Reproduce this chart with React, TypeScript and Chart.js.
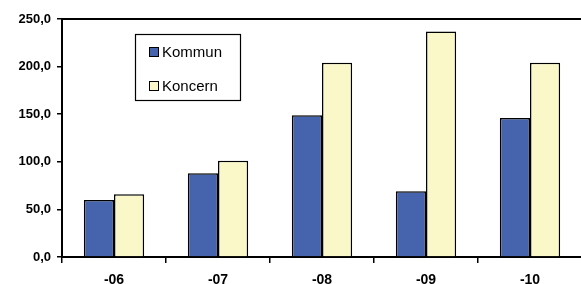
import React, { useEffect, useRef } from "react";
import { Chart, registerables } from "chart.js";

Chart.register(...registerables);

const categories = ["-06", "-07", "-08", "-09", "-10"];
const kommun = [60, 88, 149, 69, 146];
const koncern = [66, 101, 204, 237, 204];
const seriesNames = ["Kommun", "Koncern"];
const yTicks = { min: 0, max: 250, step: 50 };

const FONT = "'Liberation Sans', Arial, sans-serif";

const frameAndLegend = {
  id: "frameAndLegend",
  afterDraw(chart: any) {
    const { ctx, chartArea } = chart;
    ctx.save();
    ctx.strokeStyle = "#000";
    ctx.lineWidth = 2;
    ctx.beginPath();
    ctx.moveTo(chartArea.left - 1, chartArea.top);
    ctx.lineTo(chartArea.right + 1, chartArea.top);
    ctx.stroke();

    // legend box
    const bx = 135.5, by = 34.5, bw = 105, bh = 66;
    ctx.fillStyle = "#fff";
    ctx.fillRect(bx, by, bw, bh);
    ctx.lineWidth = 1.2;
    ctx.strokeRect(bx, by, bw, bh);
    const rows = [52, 86];
    chart.data.datasets.forEach((ds: any, i: number) => {
      const cy = rows[i];
      ctx.fillStyle = ds.backgroundColor;
      ctx.fillRect(149, cy - 4.5, 9, 9);
      ctx.lineWidth = 1;
      ctx.strokeStyle = "#000";
      ctx.strokeRect(149.5, cy - 4.5, 9, 9);
      ctx.fillStyle = "#000";
      ctx.font = `15px ${FONT}`;
      ctx.textBaseline = "middle";
      ctx.textAlign = "left";
      ctx.fillText(ds.label, 162, cy + 1);
    });
    ctx.restore();
  },
};

export default function App() {
  const ref = useRef<HTMLCanvasElement | null>(null);
  useEffect(() => {
    if (!ref.current) return;
    const chart = new Chart(ref.current, {
      type: "bar",
      data: {
        labels: categories,
        datasets: [
          {
            label: seriesNames[0],
            data: kommun,
            backgroundColor: "#4664AD",
            borderColor: "#000",
            borderWidth: 1.5,
            categoryPercentage: 0.58,
            barPercentage: 1,
          },
          {
            label: seriesNames[1],
            data: koncern,
            backgroundColor: "#FAF8C8",
            borderColor: "#000",
            borderWidth: 1.5,
            categoryPercentage: 0.58,
            barPercentage: 1,
          },
        ],
      },
      options: {
        animation: false,
        responsive: false,
        layout: { padding: { top: 19, right: 8, left: 0, bottom: 0 } },
        plugins: { legend: { display: false }, tooltip: { enabled: false } },
        scales: {
          x: {
            offset: true,
            grid: {
              display: true,
              offset: true,
              drawOnChartArea: false,
              drawTicks: true,
              tickLength: 6,
              color: "#000",
              lineWidth: 1.5,
            },
            border: { display: true, color: "#000", width: 2 },
            ticks: {
              color: "#000",
              font: { family: FONT, size: 14, weight: "bold" },
              padding: 9,
              maxRotation: 0,
            },
            afterFit(scale: any) {
              scale.height = 27;
            },
          },
          y: {
            min: yTicks.min,
            max: yTicks.max,
            grid: {
              display: true,
              drawOnChartArea: false,
              drawTicks: true,
              tickLength: 5,
              color: "#000",
              lineWidth: 1.5,
            },
            border: { display: true, color: "#000", width: 2 },
            ticks: {
              stepSize: yTicks.step,
              color: "#000",
              font: { family: FONT, size: 13, weight: "bold" },
              padding: 6,
              callback: (v: any) => Number(v).toFixed(1).replace(".", ","),
            },
            afterFit(scale: any) {
              scale.width = 62;
            },
          },
        },
      },
      plugins: [frameAndLegend],
    });
    return () => chart.destroy();
  }, []);
  return (
    <div
      style={{
        position: "fixed",
        left: 0,
        top: 0,
        width: 581,
        height: 284,
        overflow: "hidden",
        background: "#fff",
      }}
    >
      <canvas ref={ref} width={590} height={284} style={{ width: 590, height: 284, display: "block" }} />
    </div>
  );
}
